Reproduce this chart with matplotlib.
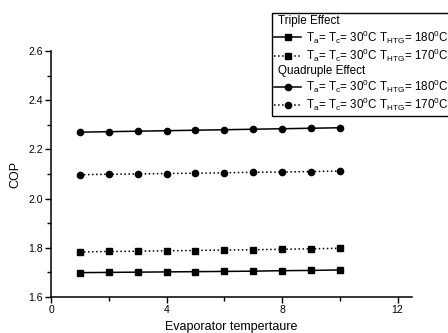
import matplotlib
matplotlib.use('Agg')
import matplotlib.pyplot as plt
from matplotlib.lines import Line2D
from matplotlib.ticker import MultipleLocator

plt.rcParams['font.family'] = ['Liberation Sans', 'DejaVu Sans']
plt.rcParams['mathtext.fontset'] = 'custom'
plt.rcParams['mathtext.rm'] = 'Liberation Sans'
plt.rcParams['mathtext.it'] = 'Liberation Sans'

# data
evap_temp = [1, 2, 3, 4, 5, 6, 7, 8, 9, 10]
triple_180 = [1.699, 1.700, 1.701, 1.702, 1.703, 1.704, 1.705, 1.707, 1.708, 1.710]
triple_170 = [1.783, 1.785, 1.786, 1.788, 1.789, 1.791, 1.792, 1.794, 1.796, 1.798]
quad_180 = [2.270, 2.272, 2.274, 2.276, 2.278, 2.280, 2.282, 2.284, 2.286, 2.288]
quad_170 = [2.097, 2.099, 2.100, 2.102, 2.103, 2.105, 2.107, 2.108, 2.110, 2.112]

lab_180 = r'T$_{a}$= T$_{c}$= 30$^{0}$C T$_{HTG}$= 180$^{0}$C'
lab_170 = r'T$_{a}$= T$_{c}$= 30$^{0}$C T$_{HTG}$= 170$^{0}$C'

fig = plt.figure(figsize=(4.48, 3.33), dpi=100)
ax = fig.add_axes([51/448, 36/333, 361/448, 246/333])

l1, = ax.plot(evap_temp, triple_180, '-', color='black', marker='s', ms=4.5, lw=1.1)
l2, = ax.plot(evap_temp, triple_170, ':', color='black', marker='s', ms=4.5, lw=1.1)
l3, = ax.plot(evap_temp, quad_180, '-', color='black', marker='o', ms=4.5, lw=1.1)
l4, = ax.plot(evap_temp, quad_170, ':', color='black', marker='o', ms=4.5, lw=1.1)

ax.set_xlim(0, 12.5)
ax.set_ylim(1.6, 2.6)
ax.xaxis.set_major_locator(MultipleLocator(4))
ax.xaxis.set_minor_locator(MultipleLocator(2))
ax.yaxis.set_major_locator(MultipleLocator(0.2))
ax.yaxis.set_minor_locator(MultipleLocator(0.1))
ax.yaxis.set_major_formatter(matplotlib.ticker.FormatStrFormatter('%.1f'))
ax.tick_params(which='both', direction='out', labelsize=7.5, width=1, pad=2)
ax.tick_params(which='major', length=4)
ax.tick_params(which='minor', length=3)
ax.spines['top'].set_visible(False)
ax.spines['right'].set_visible(False)
ax.spines['left'].set_linewidth(1.1)
ax.spines['bottom'].set_linewidth(1.1)

ax.set_xlabel('Evaporator tempertaure', fontsize=9, labelpad=4)
ax.set_ylabel('COP', fontsize=9, labelpad=5)

blank = Line2D([], [], linestyle='none')
handles = [blank, l1, l2, blank, l3, l4]
labels = ['Triple Effect', lab_180, lab_170, 'Quadruple Effect', lab_180, lab_170]
leg = fig.legend(handles, labels, loc='upper left', bbox_to_anchor=(272/448, 1 - 13/333),
                 bbox_transform=fig.transFigure, borderaxespad=0, fontsize=8.4,
                 frameon=True, fancybox=False, edgecolor='black', framealpha=1,
                 handlelength=2.3, handletextpad=0.4, labelspacing=0.08,
                 borderpad=0.2)
leg.get_frame().set_linewidth(1.0)

# header rows: drop most of the empty handle so the text starts near the left
for col in leg._legend_handle_box.get_children():
    for row in col.get_children():
        kids = row.get_children()
        txt = kids[1].get_children()[0].get_text()
        if txt in ('Triple Effect', 'Quadruple Effect'):
            kids[0].width = 3
            row.sep = 0

fig.savefig('out.png', dpi=100)
